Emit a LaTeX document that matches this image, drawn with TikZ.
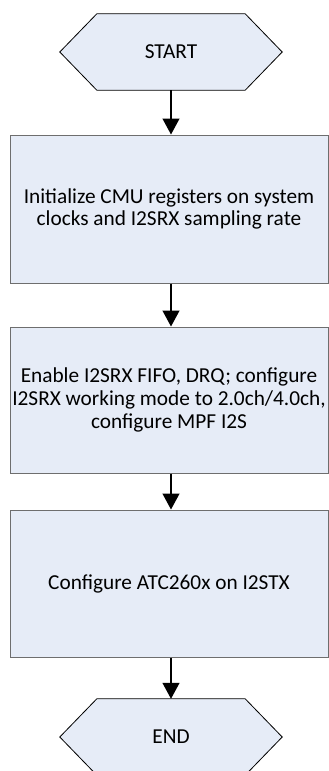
\documentclass[tikz,border=0pt]{standalone}
\usepackage{fontspec}
\setmainfont{Carlito}
\usetikzlibrary{arrows.meta,calc}
\definecolor{boxfill}{HTML}{E6ECF7}
\definecolor{boxline}{HTML}{6E6E6E}
\tikzset{
  x=1pt, y=1pt,
  every node/.style={font=\fontsize{21.3}{22.8}\selectfont, text=black},
  hexabox/.style={minimum width=222pt, minimum height=76pt, inner sep=0pt},
  hexaline/.style={draw=black, fill=boxfill, line width=0.8pt},
  stepbox/.style={draw=boxline, fill=boxfill, line width=1pt, minimum width=318pt, align=center, inner sep=0pt},
  flow/.style={draw=black, line width=1.3pt, -{Triangle[length=16pt,width=17pt]}}
}
\begin{document}
\begin{tikzpicture}
\useasboundingbox (0,0) rectangle (329,-771);
% START
\node[hexabox] (start) at (171,-52) {};
\draw[hexaline] (start.west) -- ($(start.north west)+(37,0)$) -- ($(start.north east)+(-37,0)$) -- (start.east) -- ($(start.south east)+(-37,0)$) -- ($(start.south west)+(37,0)$) -- cycle;
\node at (start) {START};
% boxes
\node[stepbox, minimum height=148pt] (b1) at (169,-209) {Initialize CMU registers on system\\clocks and I2SRX sampling rate};
\node[stepbox, minimum height=146pt] (b2) at (169,-400) {Enable I2SRX FIFO, DRQ; configure\\I2SRX working mode to 2.0ch/4.0ch,\\configure MPF I2S};
\node[stepbox, minimum height=147pt] (b3) at (169,-583.5) {Configure ATC260x on I2STX};
% END
\node[hexabox] (end) at (171,-737) {};
\draw[hexaline] (end.west) -- ($(end.north west)+(37,0)$) -- ($(end.north east)+(-37,0)$) -- (end.east) -- ($(end.south east)+(-37,0)$) -- ($(end.south west)+(37,0)$) -- cycle;
\node at (end) {END};
% connectors
\draw[flow] (start.south) -- (start.south |- b1.north);
\draw[flow] (b1.south -| start.south) -- (start.south |- b2.north);
\draw[flow] (b2.south -| start.south) -- (start.south |- b3.north);
\draw[flow] (b3.south -| end.north) -- (end.north);
\end{tikzpicture}
\end{document}
